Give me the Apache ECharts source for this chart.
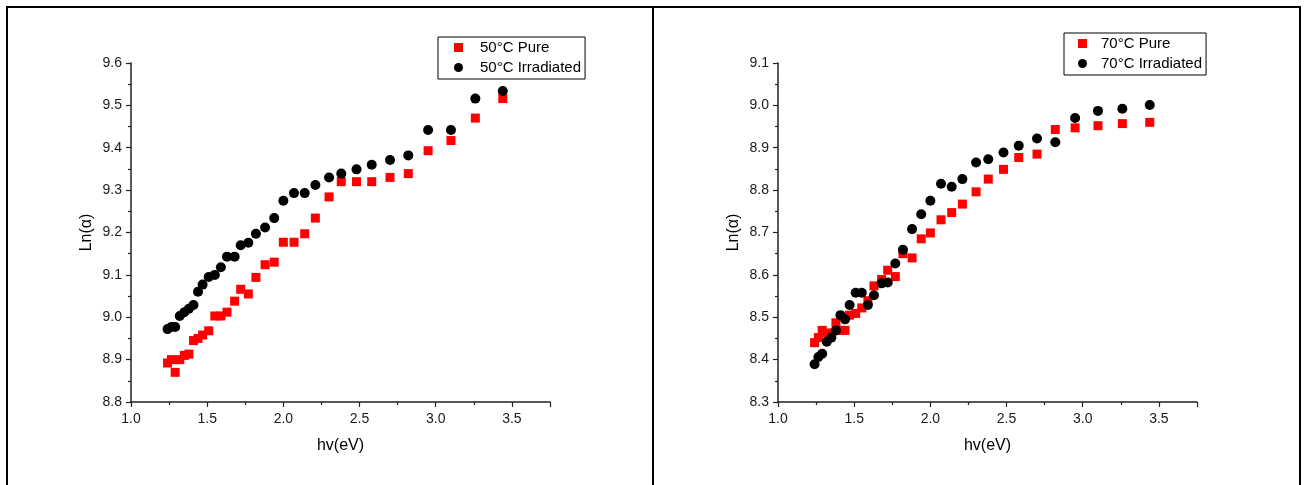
<!DOCTYPE html>
<html>
<head>
<meta charset="utf-8">
<script src="https://cdn.jsdelivr.net/npm/echarts@6/dist/echarts.min.js"></script>
<style>
html,body{margin:0;padding:0;background:#fff;}
#c{width:1306px;height:485px;}
</style>
</head>
<body>
<div id="c"></div>
<script>
// photon energy hv (eV)
const energy = [1.24,1.265,1.29,1.32,1.35,1.38,1.41,1.44,1.47,1.51,1.55,1.59,1.63,1.68,1.72,1.77,1.82,1.88,1.94,2.00,2.07,2.14,2.21,2.30,2.38,2.48,2.58,2.70,2.82,2.95,3.10,3.26,3.44];

const pure50 = [8.892,8.900,8.870,8.900,8.910,8.913,8.945,8.950,8.958,8.968,9.003,9.003,9.012,9.038,9.066,9.055,9.094,9.124,9.130,9.177,9.177,9.197,9.234,9.284,9.320,9.320,9.320,9.330,9.339,9.393,9.417,9.470,9.516];
const irr50  = [8.972,8.977,8.977,9.003,9.012,9.020,9.029,9.060,9.077,9.095,9.100,9.118,9.143,9.143,9.170,9.176,9.197,9.212,9.234,9.275,9.293,9.293,9.312,9.330,9.339,9.349,9.360,9.371,9.382,9.442,9.442,9.516,9.534];
const pure70 = [8.440,8.452,8.469,8.463,8.460,8.487,8.469,8.469,8.505,8.509,8.522,8.539,8.574,8.589,8.611,8.596,8.650,8.640,8.685,8.699,8.730,8.747,8.767,8.796,8.826,8.849,8.877,8.885,8.943,8.947,8.952,8.957,8.960];
const irr70  = [8.389,8.406,8.414,8.442,8.452,8.469,8.505,8.495,8.529,8.558,8.558,8.529,8.552,8.580,8.582,8.627,8.659,8.708,8.743,8.775,8.815,8.808,8.826,8.865,8.873,8.889,8.905,8.922,8.913,8.970,8.987,8.992,9.001];

const seriesNames = ['50°C Pure','50°C Irradiated','70°C Pure','70°C Irradiated'];
const xRange = [1.0, 3.75];
const yRange50 = [8.8, 9.6];
const yRange70 = [8.3, 9.1];
const xTitle = 'hv(eV)';
const yTitle = 'Ln(α)';

const FONT = "'Liberation Sans', Arial, sans-serif";
const pair = (xs, ys) => xs.map((x, i) => [x, ys[i]]);

function xAxis(idx) {
  return {
    type: 'value', gridIndex: idx, min: xRange[0], max: xRange[1], interval: 0.5,
    name: xTitle, nameLocation: 'middle', nameGap: 36,
    nameTextStyle: {fontFamily: FONT, fontSize: 16, color: '#000'},
    axisLine: {show: true, onZero: false, lineStyle: {color: '#222', width: 1.5}},
    axisTick: {show: true, inside: false, length: 5, lineStyle: {color: '#222', width: 1.2}},
    minorTick: {show: true, splitNumber: 2, length: 3, lineStyle: {color: '#222', width: 1.2}},
    axisLabel: {fontFamily: FONT, fontSize: 14, color: '#1a1a1a', margin: 10, showMaxLabel: false,
      formatter: v => v.toFixed(1)},
    splitLine: {show: false}
  };
}
function yAxis(idx, r) {
  return {
    type: 'value', gridIndex: idx, min: r[0], max: r[1], interval: 0.1,
    name: yTitle, nameLocation: 'middle', nameGap: 36, nameRotate: 90,
    nameTextStyle: {fontFamily: FONT, fontSize: 16, color: '#000'},
    axisLine: {show: true, onZero: false, lineStyle: {color: '#222', width: 1.5}},
    axisTick: {show: true, inside: false, length: 5, lineStyle: {color: '#222', width: 1.2}},
    minorTick: {show: true, splitNumber: 2, length: 3, lineStyle: {color: '#222', width: 1.2}},
    axisLabel: {fontFamily: FONT, fontSize: 14, color: '#1a1a1a', margin: 9,
      formatter: v => v.toFixed(1)},
    splitLine: {show: false}
  };
}
function legend(names, left, top, padLeft, textPad) {
  return {
    data: names.map((n, i) => ({name: n, icon: i === 0 ? 'rect' : 'circle'})),
    orient: 'vertical', left: left, top: top,
    itemWidth: 9, itemHeight: 9, itemGap: 5,
    padding: [3, 4, 4, padLeft],
    borderColor: '#000', borderWidth: 1, backgroundColor: '#fff',
    textStyle: {fontFamily: FONT, fontSize: 15, color: '#000', padding: [0, 0, 0, textPad]}
  };
}

const chart = echarts.init(document.getElementById('c'), null, {renderer: 'canvas'});
chart.setOption({
  animation: false,
  backgroundColor: '#fff',
  grid: [
    {left: 131, right: 1306 - 550, top: 63, bottom: 485 - 402},
    {left: 778, right: 1306 - 1197, top: 63, bottom: 485 - 402}
  ],
  xAxis: [xAxis(0), xAxis(1)],
  yAxis: [yAxis(0, yRange50), yAxis(1, yRange70)],
  legend: [
    legend([seriesNames[0], seriesNames[1]], 438, 37, 16, 12),
    legend([seriesNames[2], seriesNames[3]], 1064, 33, 14, 9)
  ],
  graphic: [
    {type: 'rect', shape: {x: 7, y: 7, width: 646, height: 500}, style: {fill: 'none', stroke: '#000', lineWidth: 2}, silent: true},
    {type: 'rect', shape: {x: 653, y: 7, width: 647, height: 500}, style: {fill: 'none', stroke: '#000', lineWidth: 2}, silent: true}
  ],
  series: [
    {name: seriesNames[0], type: 'scatter', xAxisIndex: 0, yAxisIndex: 0, symbol: 'rect', symbolSize: 9,
      itemStyle: {color: '#ff0000', opacity: 1}, data: pair(energy, pure50)},
    {name: seriesNames[1], type: 'scatter', xAxisIndex: 0, yAxisIndex: 0, symbol: 'circle', symbolSize: 10,
      itemStyle: {color: '#000000', opacity: 1}, data: pair(energy, irr50)},
    {name: seriesNames[2], type: 'scatter', xAxisIndex: 1, yAxisIndex: 1, symbol: 'rect', symbolSize: 9,
      itemStyle: {color: '#ff0000', opacity: 1}, data: pair(energy, pure70)},
    {name: seriesNames[3], type: 'scatter', xAxisIndex: 1, yAxisIndex: 1, symbol: 'circle', symbolSize: 10,
      itemStyle: {color: '#000000', opacity: 1}, data: pair(energy, irr70)}
  ]
});
</script>
</body>
</html>
